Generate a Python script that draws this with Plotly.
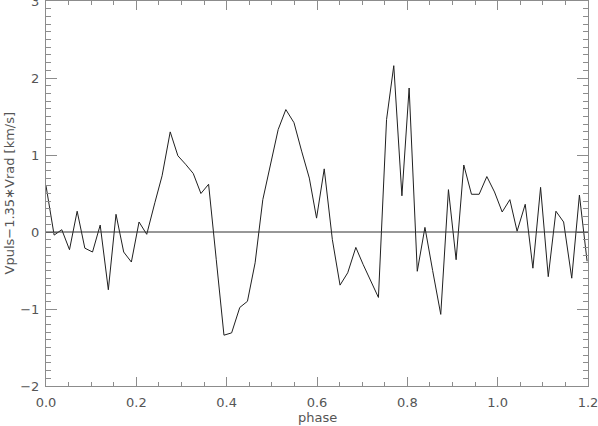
import plotly.graph_objects as go

# phase values
phase = [
    0.000, 0.018, 0.035, 0.052, 0.069, 0.086, 0.103, 0.120, 0.138, 0.155,
    0.172, 0.189, 0.206, 0.223, 0.241, 0.257, 0.275, 0.292, 0.309, 0.326,
    0.343, 0.360, 0.377, 0.394, 0.411, 0.429, 0.446, 0.463, 0.480, 0.497,
    0.514, 0.531, 0.549, 0.566, 0.583, 0.599, 0.616, 0.634, 0.651, 0.668,
    0.686, 0.702, 0.719, 0.736, 0.754, 0.770, 0.788, 0.804, 0.822, 0.839,
    0.856, 0.874, 0.891, 0.908, 0.925, 0.942, 0.959, 0.976, 0.993, 1.010,
    1.027, 1.043, 1.061, 1.078, 1.095, 1.112, 1.129, 1.146, 1.164, 1.181,
    1.198,
]

# Vpuls - 1.35*Vrad [km/s]
dv = [
    0.60, -0.04, 0.03, -0.23, 0.27, -0.21, -0.26, 0.09, -0.75, 0.23,
    -0.26, -0.39, 0.13, -0.03, 0.38, 0.73, 1.30, 0.99, 0.88, 0.76,
    0.50, 0.62, -0.36, -1.34, -1.31, -0.98, -0.90, -0.40, 0.42, 0.86,
    1.33, 1.59, 1.42, 1.05, 0.70, 0.18, 0.82, -0.10, -0.69, -0.53,
    -0.20, -0.42, -0.64, -0.85, 1.46, 2.16, 0.47, 1.87, -0.51, 0.06,
    -0.50, -1.07, 0.55, -0.36, 0.87, 0.49, 0.49, 0.72, 0.52, 0.26,
    0.42, 0.01, 0.36, -0.47, 0.58, -0.58, 0.27, 0.13, -0.60, 0.48,
    -0.38,
]

x_ticks = [0.0, 0.2, 0.4, 0.6, 0.8, 1.0, 1.2]
x_ticktext = ["0.0", "0.2", "0.4", "0.6", "0.8", "1.0", "1.2"]
y_ticks = [-2, -1, 0, 1, 2, 3]
y_ticktext = ["\u22122", "\u22121", "0", "1", "2", "3"]

axis_col = "#8c8c8c"
text_col = "#555555"

fig = go.Figure()

fig.add_trace(
    go.Scatter(
        x=phase,
        y=dv,
        mode="lines",
        line=dict(color="#202020", width=1),
        showlegend=False,
        hoverinfo="skip",
    )
)

# zero line
fig.add_hline(y=0, line=dict(color="#303030", width=1))

fig.update_layout(
    width=598,
    height=426,
    margin=dict(l=46, r=10, t=1, b=40),
    paper_bgcolor="white",
    plot_bgcolor="white",
    font=dict(family="DejaVu Sans", size=13, color=text_col),
)

fig.update_xaxes(
    range=[0, 1.2],
    tickmode="array",
    tickvals=x_ticks,
    ticktext=x_ticktext,
    ticks="inside",
    ticklen=9,
    tickwidth=1,
    tickcolor=axis_col,
    ticklabelstandoff=4,
    ticklabeloverflow="allow",
    minor=dict(dtick=0.05, ticks="inside", ticklen=4, tickcolor=axis_col, showgrid=False),
    showline=True,
    linecolor=axis_col,
    linewidth=1,
    mirror="ticks",
    showgrid=False,
    zeroline=False,
    automargin=False,
)

fig.update_yaxes(
    range=[-2, 3],
    tickmode="array",
    tickvals=y_ticks,
    ticktext=y_ticktext,
    ticks="inside",
    ticklen=11,
    tickwidth=1,
    tickcolor=axis_col,
    ticklabelstandoff=3,
    ticklabeloverflow="allow",
    minor=dict(dtick=0.1, ticks="inside", ticklen=5, tickcolor=axis_col, showgrid=False),
    showline=True,
    linecolor=axis_col,
    linewidth=1,
    mirror="ticks",
    showgrid=False,
    zeroline=False,
    automargin=False,
)

# axis titles
fig.add_annotation(
    text="phase", xref="paper", yref="paper", x=0.5, y=0,
    xanchor="center", yanchor="top", yshift=-22, showarrow=False,
    font=dict(size=13, color=text_col),
)
fig.add_annotation(
    text="Vpuls\u22121.35\u2217Vrad [km/s]", xref="paper", yref="paper", x=0, y=0.5,
    xanchor="center", yanchor="middle", xshift=-37, textangle=-90, showarrow=False,
    font=dict(size=13, color=text_col),
)

# drop the default page margin so the figure sits at the window's top-left
fig.write_html(
    "out.html",
    config={"displayModeBar": False},
    post_script="document.body.style.margin='0';",
)
